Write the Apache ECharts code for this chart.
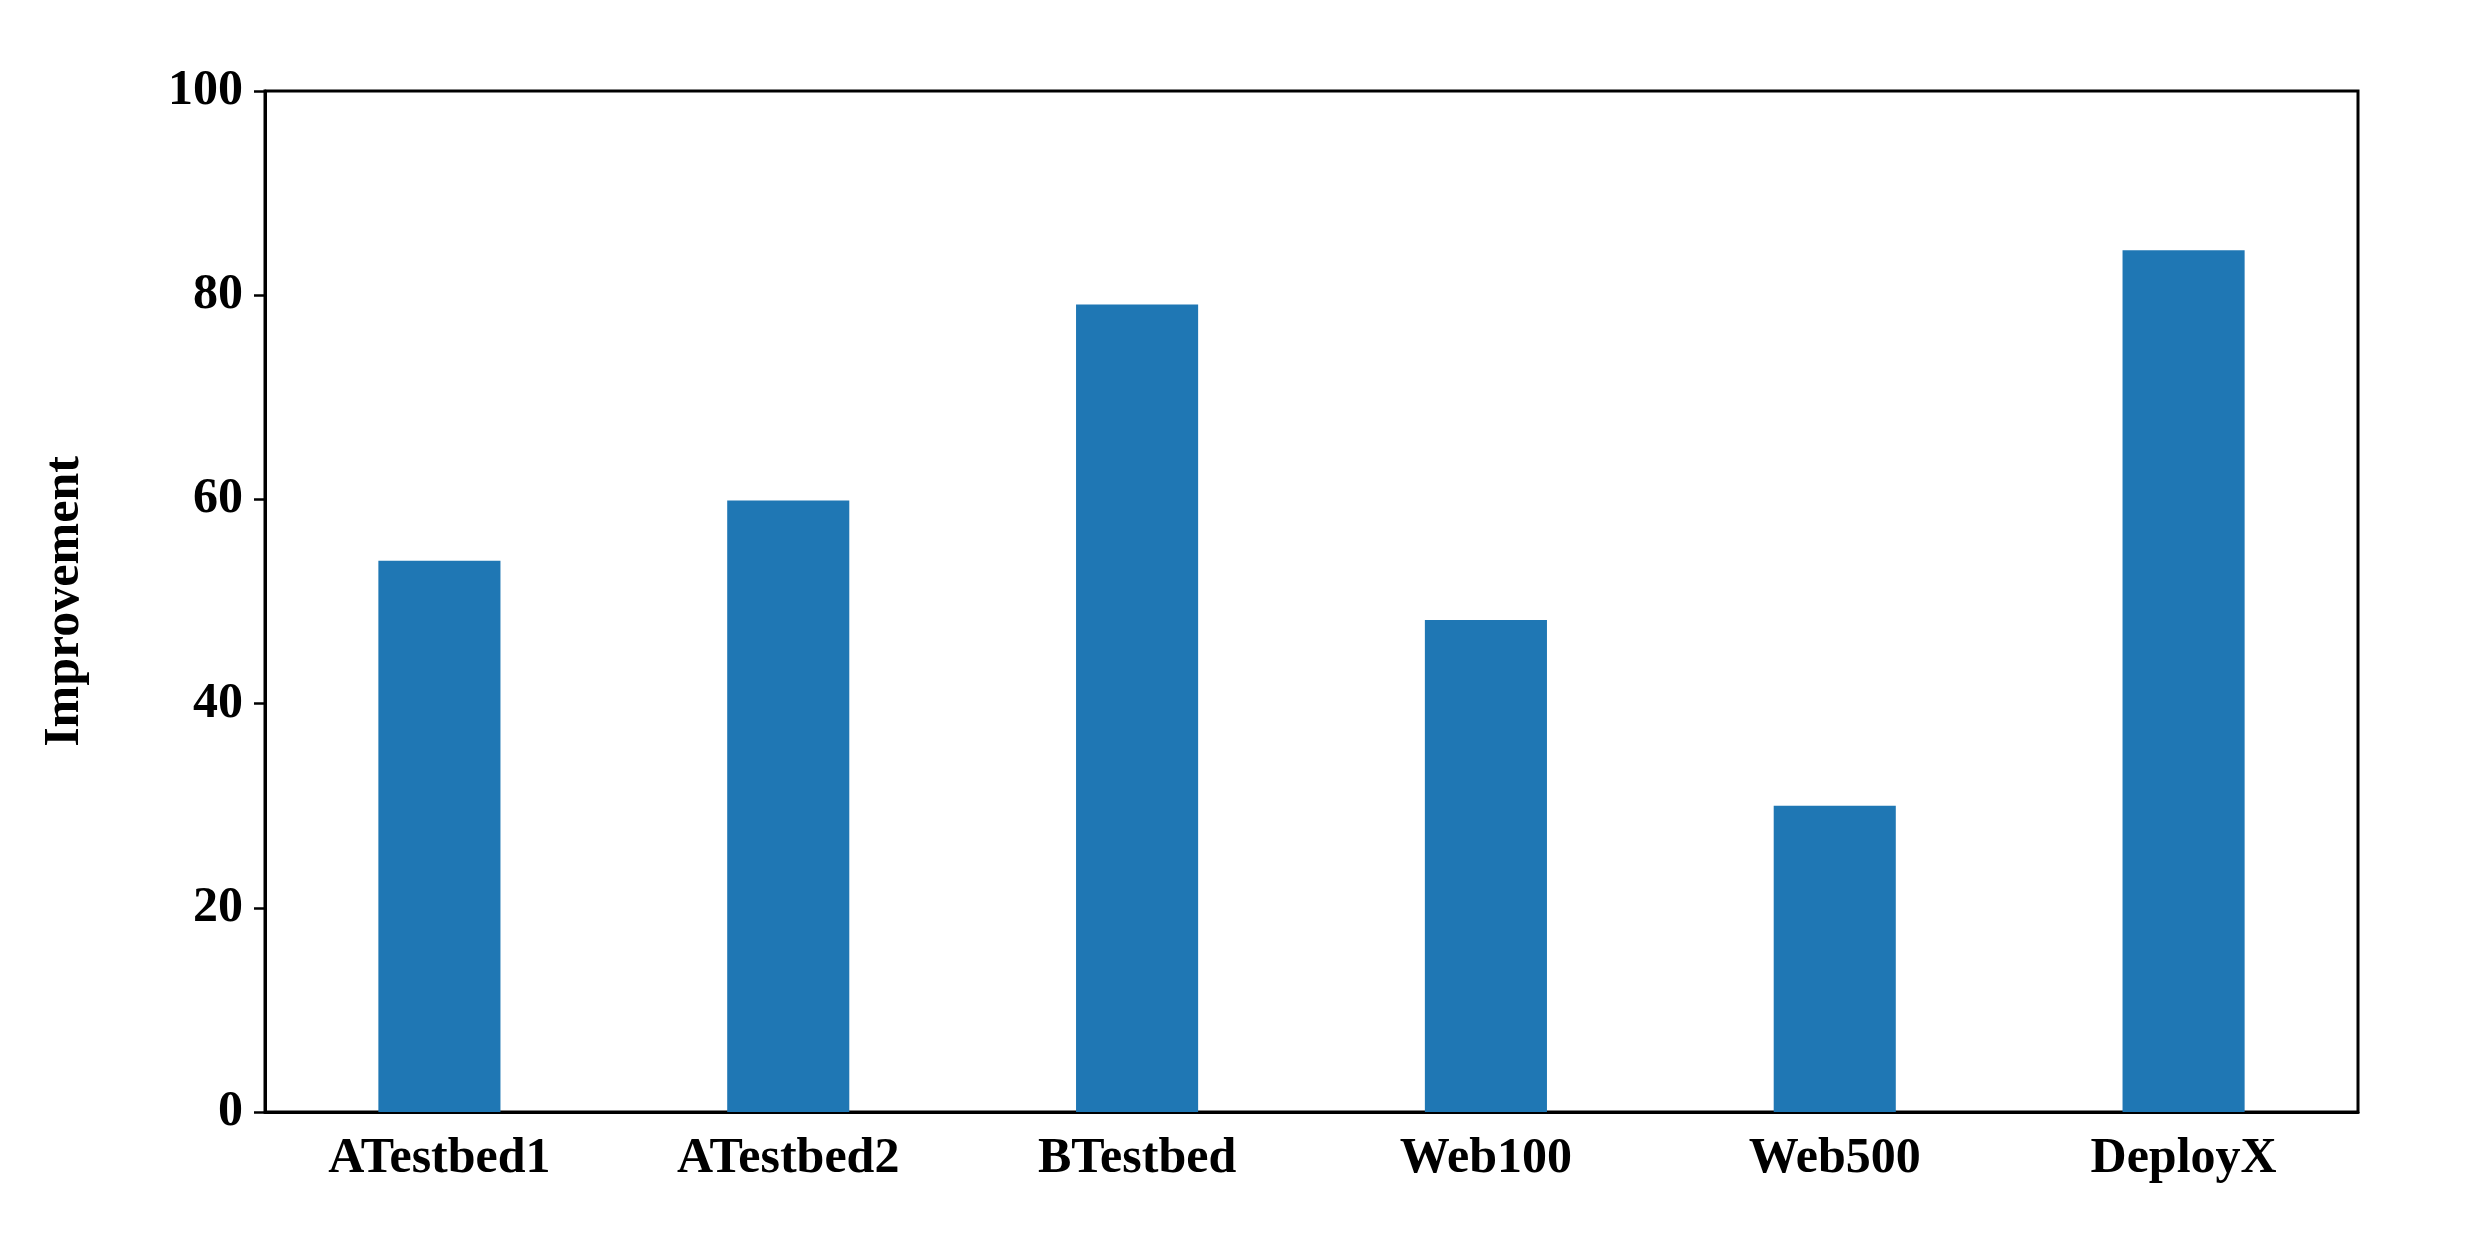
<!DOCTYPE html>
<html lang="en">
<head>
    <meta charset="UTF-8">
    <title>Improvement</title>
</head>
<body style="margin:0;background:#fff">
    <div id="main" style="width: 2466px;height:1244px"></div>
    <script src="https://cdn.jsdelivr.net/npm/echarts@6/dist/echarts.min.js"></script>
    <script>
        const categories = ['ATestbed1', 'ATestbed2', 'BTestbed', 'Web100', 'Web500', 'DeployX'];
        const improvement = [54, 59.9, 79.1, 48.2, 30, 84.4];
        const yTicks = [0, 20, 40, 60, 80, 100];

        const font = { fontFamily: 'Liberation Serif', fontWeight: 'bold', fontSize: 50, color: '#000' };
        const chart = echarts.init(document.getElementById('main'));

        const G = { left: 265, right: 108, top: 91, bottom: 132 };
        chart.setOption({
            animation: false,
            grid: G,
            xAxis: {
                type: 'category',
                data: categories,
                axisLine: { lineStyle: { color: '#000', width: 3 } },
                axisTick: { alignWithLabel: true, length: 11, lineStyle: { color: '#000', width: 2.5 } },
                axisLabel: Object.assign({ margin: 22 }, font)
            },
            yAxis: {
                type: 'value',
                min: yTicks[0],
                max: yTicks[yTicks.length - 1],
                interval: 20,
                name: 'Improvement',
                nameLocation: 'middle',
                nameGap: 175,
                nameTextStyle: font,
                splitLine: { show: false },
                axisLine: { show: true, lineStyle: { color: '#000', width: 3 } },
                axisTick: { show: true, length: 11, lineStyle: { color: '#000', width: 2.5 } },
                axisLabel: Object.assign({ margin: 22 }, font)
            },
            series: [{
                type: 'bar',
                data: improvement,
                barWidth: '35%',
                itemStyle: { color: '#1f77b4' }
            }],
            graphic: [{
                type: 'rect',
                shape: { x: G.left, y: G.top, width: 2466 - G.left - G.right, height: 1244 - G.top - G.bottom },
                style: { fill: null, stroke: '#000', lineWidth: 3 },
                silent: true
            }]
        });
    </script>
</body>
</html>
